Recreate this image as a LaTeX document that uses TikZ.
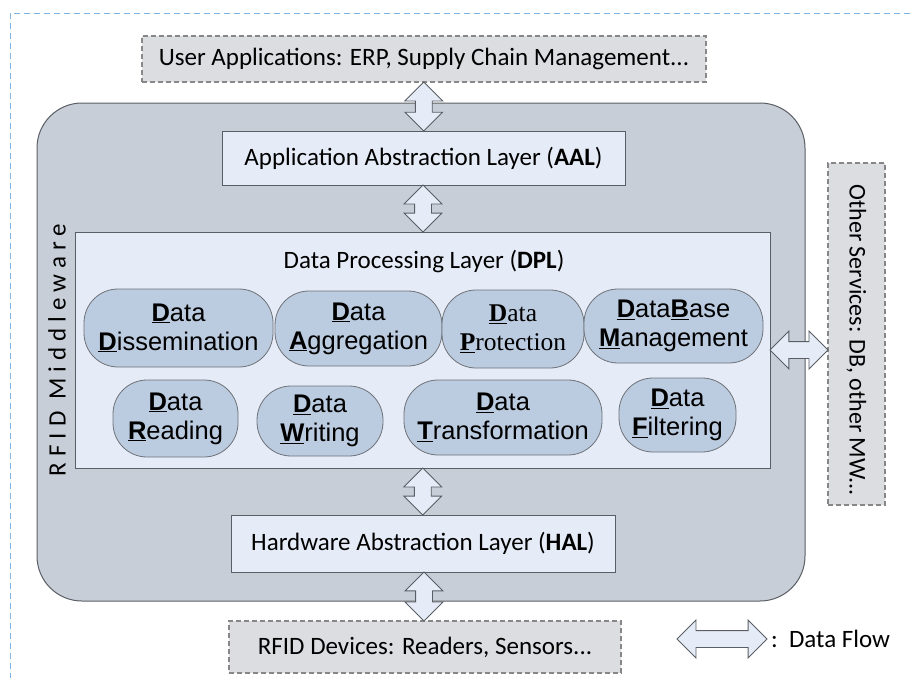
\documentclass[tikz,border=0pt]{standalone}
\usepackage{fontspec}
\setmainfont{Carlito}
\newfontfamily\arialfont{Liberation Sans}
\newfontfamily\timesfont{Liberation Serif}
\usetikzlibrary{shapes.arrows}

\definecolor{mwfill}{RGB}{200,206,216}
\definecolor{mwdraw}{RGB}{90,94,100}
\definecolor{layerfill}{RGB}{230,236,247}
\definecolor{pillfill}{RGB}{187,203,224}
\definecolor{pilldraw}{RGB}{110,114,120}
\definecolor{dashfill}{RGB}{220,221,225}
\definecolor{dashdraw}{RGB}{135,135,135}
\definecolor{framecol}{RGB}{125,178,228}

\newcommand{\fl}[1]{\underline{\textbf{#1}}}

\begin{document}
\begin{tikzpicture}[x=1pt, y=-1pt,
    dashbox/.style ={draw=dashdraw, fill=dashfill, line width=1.2pt, dash pattern=on 5pt off 3pt, inner sep=0pt},
    layer/.style ={draw=mwdraw, fill=layerfill, line width=1pt, inner sep=0pt},
    pill/.style ={draw=pilldraw, fill=pillfill, line width=0.8pt, rounded corners=34pt, align=center, inner sep=0pt,
                  font=\arialfont\fontsize{25.5}{29}\selectfont},
    flow/.style ={double arrow, draw=mwdraw, fill=layerfill, line width=0.8pt, inner xsep=0pt, inner ysep=8pt,
                  double arrow head extend=10.5pt},
    txt/.style ={font=\fontsize{25}{30}\selectfont}]
   \useasboundingbox (0,0) rectangle (910,683);
   \draw[framecol, line width=1pt, dash pattern=on 6pt off 4pt] (910,13) -- (10,13) -- (10,678);

   \node[draw=mwdraw, fill=mwfill, line width=1pt, rounded corners=45pt,
         minimum width=768pt, minimum height=498pt] (mw) at (421,352) {};
   \node[rotate=90, txt] (mwlabel) at (57,350) {\addfontfeature{LetterSpace=24}RFID Middleware};

   \node[dashbox, txt, minimum width=564pt, minimum height=46pt] (ua)  at (424,59) {User Applications: ERP, Supply Chain Management...};
   \node[layer, txt, minimum width=403pt, minimum height=54pt] (aal)   at (423.5,158) {Application Abstraction Layer (\textbf{AAL})};
   \node[layer, minimum width=695pt, minimum height=236pt] (dpl)       at (422.5,350) {};
   \node[txt] (dpltitle) at (424,261) {Data Processing Layer (\textbf{DPL})};
   \node[layer, txt, minimum width=384pt, minimum height=57pt] (hal)   at (423,543.5) {Hardware Abstraction Layer (\textbf{HAL})};
   \node[dashbox, txt, minimum width=392pt, minimum height=52pt] (dev) at (425,647) {RFID Devices: Readers, Sensors...};
   \node[dashbox, minimum width=57pt, minimum height=342pt] (oth)      at (856.5,334) {};
   \node[font=\fontsize{24}{29}\selectfont, rotate=-90] (othlabel) at (856.5,340) {Other Services: DB, other MW...};

   % processing blocks
   \node[pill, minimum width=189pt, minimum height=78pt] (diss)  at (178.5,328)   {\fl{D}ata\\\fl{D}issemination};
   \node[pill, minimum width=167pt, minimum height=75pt] (aggr)  at (358.5,328.5) {\fl{D}ata\\\fl{A}ggregation};
   \node[pill, minimum width=142pt, minimum height=78pt, font=\timesfont\fontsize{25.5}{29}\selectfont] (prot) at (513,329) {\fl{D}ata\\\fl{P}rotection};
   \node[pill, minimum width=179pt, minimum height=74pt] (dbm)   at (673.5,326)   {\fl{D}ata\fl{B}ase\\\fl{M}anagement};
   \node[pill, minimum width=125pt, minimum height=77pt] (read)  at (175.5,418.5) {\fl{D}ata\\\fl{R}eading};
   \node[pill, minimum width=126pt, minimum height=70pt] (writ)  at (320,421)     {\fl{D}ata\\\fl{W}riting};
   \node[pill, minimum width=198pt, minimum height=75pt] (trans) at (503,417.5)   {\fl{D}ata\\\fl{T}ransformation};
   \node[pill, minimum width=117pt, minimum height=74pt] (filt)  at (677.5,415)   {\fl{D}ata\\\fl{F}iltering};

   % data flows
   \path (ua.south) -- (aal.north) node[midway, flow, rotate=90, minimum height=49pt] {};
   \path (aal.south) -- (dpl.north) node[midway, flow, rotate=90, minimum height=47pt] {};
   \path (dpl.south) -- (hal.north) node[midway, flow, rotate=90, minimum height=47pt] {};
   \path (hal.south) -- (dev.north) node[midway, flow, rotate=90, minimum height=49pt] {};
   \path (dpl.east) -- (dpl.east -| oth.west) node[midway, flow, minimum height=58pt] {};

   \node[flow, minimum height=90pt] (legarrow) at (722,639) {};
   \node[txt, anchor=west] (legtext) at (legarrow.east) {:\ \ Data Flow};
 \end{tikzpicture}
\end{document}
